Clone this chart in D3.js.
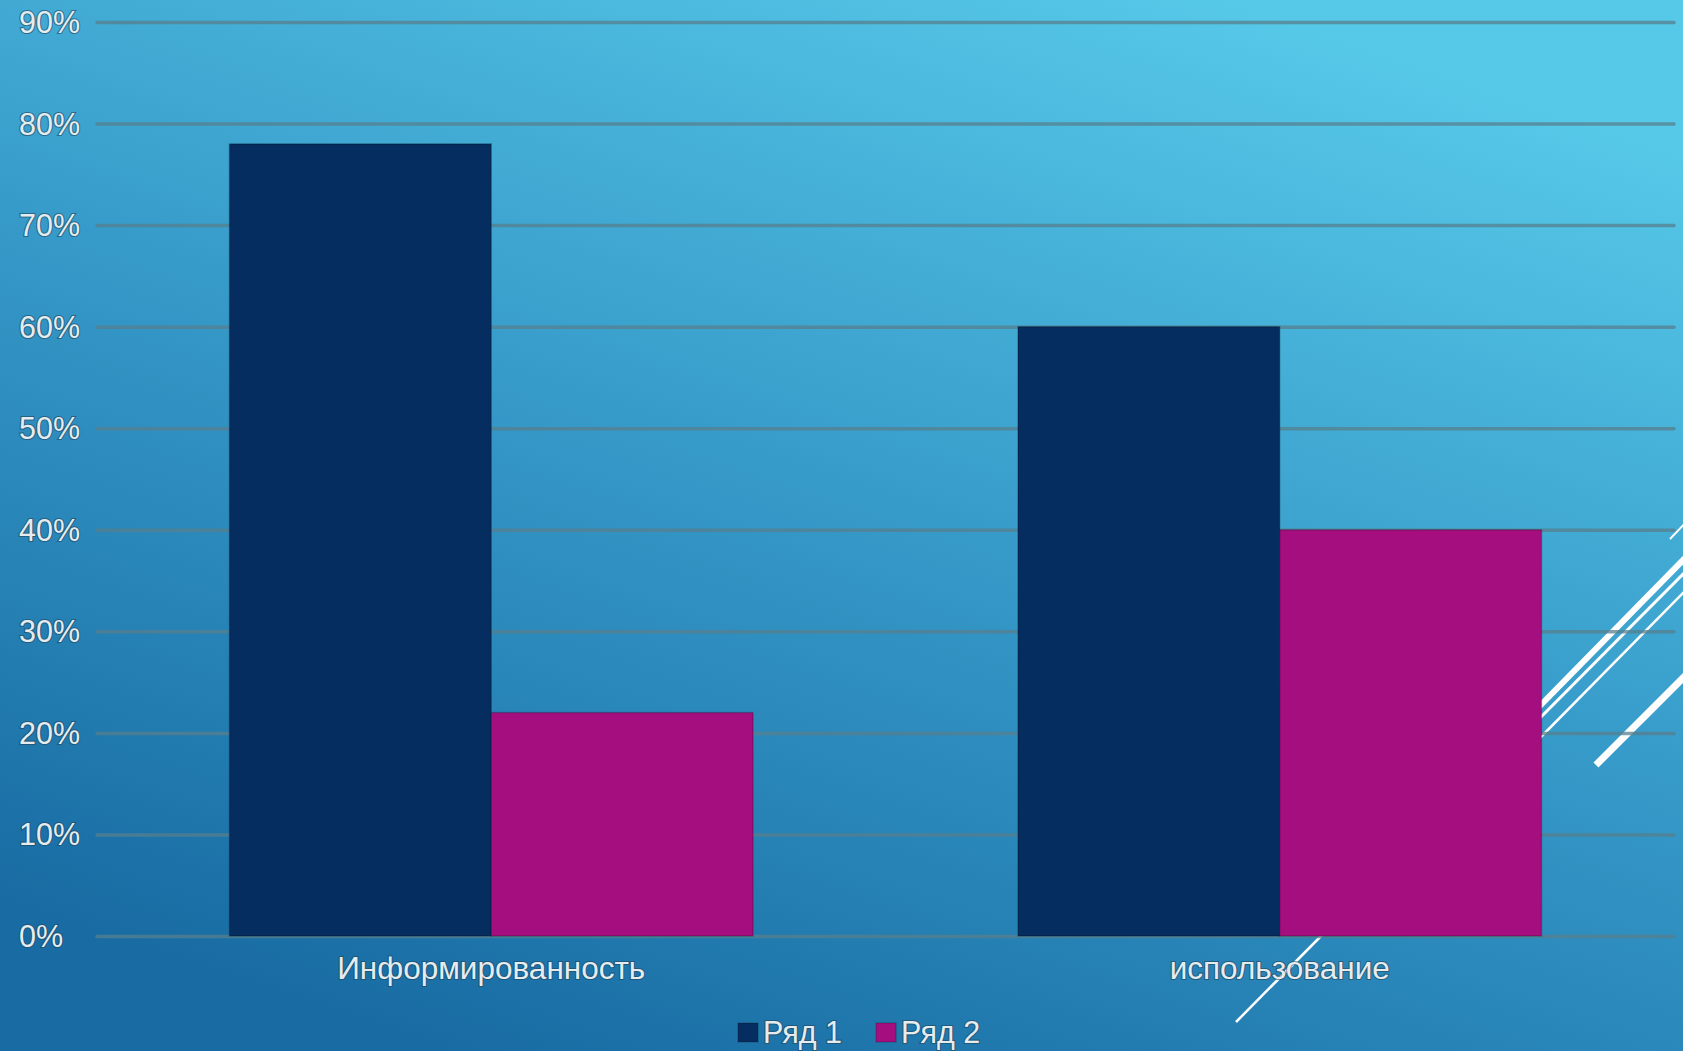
<!DOCTYPE html>
<html lang="ru">
  <head>
    <meta charset="UTF-8">
    <title>Информированность и использование</title>
    <script src="https://cdn.jsdelivr.net/npm/d3@7/dist/d3.min.js"></script>
    <style>
      body{
        margin: 0;
        overflow: hidden;
      }
      text{
        font-family: "Liberation Sans", Arial, sans-serif;
        fill: #e6ecee;
        paint-order: stroke;
        stroke: rgba(30, 70, 95, 0.6);
        stroke-width: 2.2px;
      }
    </style>
  </head>
  <body>
    <script>

      // data
      const categories = ["Информированность", "использование"];
      const seriesNames = ["Ряд 1", "Ряд 2"];
      const series1 = [0.78, 0.60];
      const series2 = [0.22, 0.40];
      const tickValues = [0, 0.1, 0.2, 0.3, 0.4, 0.5, 0.6, 0.7, 0.8, 0.9];
      const tickLabels = ["0%", "10%", "20%", "30%", "40%", "50%", "60%", "70%", "80%", "90%"];

      const w = 1683;
      const h = 1051;
      const plotLeft = 97, plotRight = 1674, plotTop = 22, plotBottom = 936;
      const colors = ["#052d5f", "#a50e7f"];

      const svg = d3.select("body")
                    .append("svg")
                    .attr("width", w)
                    .attr("height", h);

      const defs = svg.append("defs");
      const bg = defs.append("linearGradient")
                     .attr("id", "bg")
                     .attr("gradientUnits", "userSpaceOnUse")
                     .attr("x1", 650).attr("y1", 1120)
                     .attr("x2", 1050).attr("y2", -60);
      bg.append("stop").attr("offset", 0).attr("stop-color", "#186ca3");
      bg.append("stop").attr("offset", 0.5).attr("stop-color", "#3598c7");
      bg.append("stop").attr("offset", 1).attr("stop-color", "#56c8e8");

      svg.append("rect")
         .attr("width", w)
         .attr("height", h)
         .attr("fill", "url(#bg)");

      // slide decoration (white diagonal strokes behind the chart)
      const deco = [
        [1670, 539, 1690, 518, 2],
        [1530, 716, 1690, 553, 6],
        [1530, 728, 1690, 567, 3],
        [1530, 748, 1690, 586, 2.5],
        [1596, 765, 1690, 671, 7],
        [1236, 1022, 1325, 932, 2.5]
      ];
      svg.append("g")
         .selectAll("line")
         .data(deco)
         .enter()
         .append("line")
         .attr("x1", d => d[0]).attr("y1", d => d[1])
         .attr("x2", d => d[2]).attr("y2", d => d[3])
         .attr("stroke", "#ffffff")
         .attr("stroke-width", d => d[4]);

      const x0 = d3.scaleBand()
                   .domain(categories)
                   .range([plotLeft, plotRight])
                   .paddingInner(0.336)
                   .paddingOuter(0.168);

      const x1 = d3.scaleBand()
                   .domain(seriesNames)
                   .range([0, x0.bandwidth()]);

      const yScale = d3.scaleLinear()
                       .domain([0, 0.9])
                       .range([plotBottom, plotTop]);

      // gridlines
      const yGrid = d3.axisLeft(yScale)
                      .tickValues(tickValues)
                      .tickSize(-(plotRight - plotLeft))
                      .tickFormat("");
      svg.append("g")
         .attr("transform", `translate(${plotLeft},0)`)
         .call(yGrid)
         .call(g => g.select(".domain").remove())
         .selectAll("line")
         .attr("stroke", "#577f8e")
         .attr("stroke-opacity", 0.75)
         .attr("stroke-width", 3.5)
         .attr("stroke-linecap", "round");

      // y labels
      svg.append("g")
         .selectAll("text")
         .data(tickValues)
         .enter()
         .append("text")
         .attr("x", 19)
         .attr("y", d => yScale(d))
         .attr("dy", "0.36em")
         .style("font-size", "30.5px")
         .text((d, i) => tickLabels[i]);

      // bars
      const rows = categories.map((c, i) => ({cat: c, values: [series1[i], series2[i]]}));
      svg.append("g")
         .selectAll("g")
         .data(rows)
         .enter()
         .append("g")
         .attr("transform", d => `translate(${x0(d.cat)},0)`)
         .selectAll("rect")
         .data(d => d.values.map((v, j) => ({name: seriesNames[j], v: v, j: j})))
         .enter()
         .append("rect")
         .attr("x", d => x1(d.name))
         .attr("y", d => yScale(d.v))
         .attr("width", x1.bandwidth())
         .attr("height", d => plotBottom - yScale(d.v))
         .attr("fill", d => colors[d.j])
         .attr("stroke", "rgba(0,0,0,0.22)")
         .attr("stroke-width", 1.5);

      // category labels
      svg.append("g")
         .selectAll("text")
         .data(categories)
         .enter()
         .append("text")
         .attr("x", d => x0(d) + x0.bandwidth() / 2)
         .attr("y", 979)
         .attr("text-anchor", "middle")
         .style("font-size", "31.5px")
         .text(d => d);

      // legend
      const legend = svg.append("g");
      let lx = 738;
      seriesNames.forEach((name, i) => {
        legend.append("rect")
              .attr("x", lx)
              .attr("y", 1023)
              .attr("width", 20)
              .attr("height", 19)
              .attr("fill", colors[i])
              .attr("stroke", "rgba(0,0,0,0.25)");
        const t = legend.append("text")
                        .attr("x", lx + 25)
                        .attr("y", 1043)
                        .style("font-size", "30.5px")
                        .text(name);
        lx += 25 + t.node().getComputedTextLength() + 34;
      });
    </script>
  </body>
</html>
